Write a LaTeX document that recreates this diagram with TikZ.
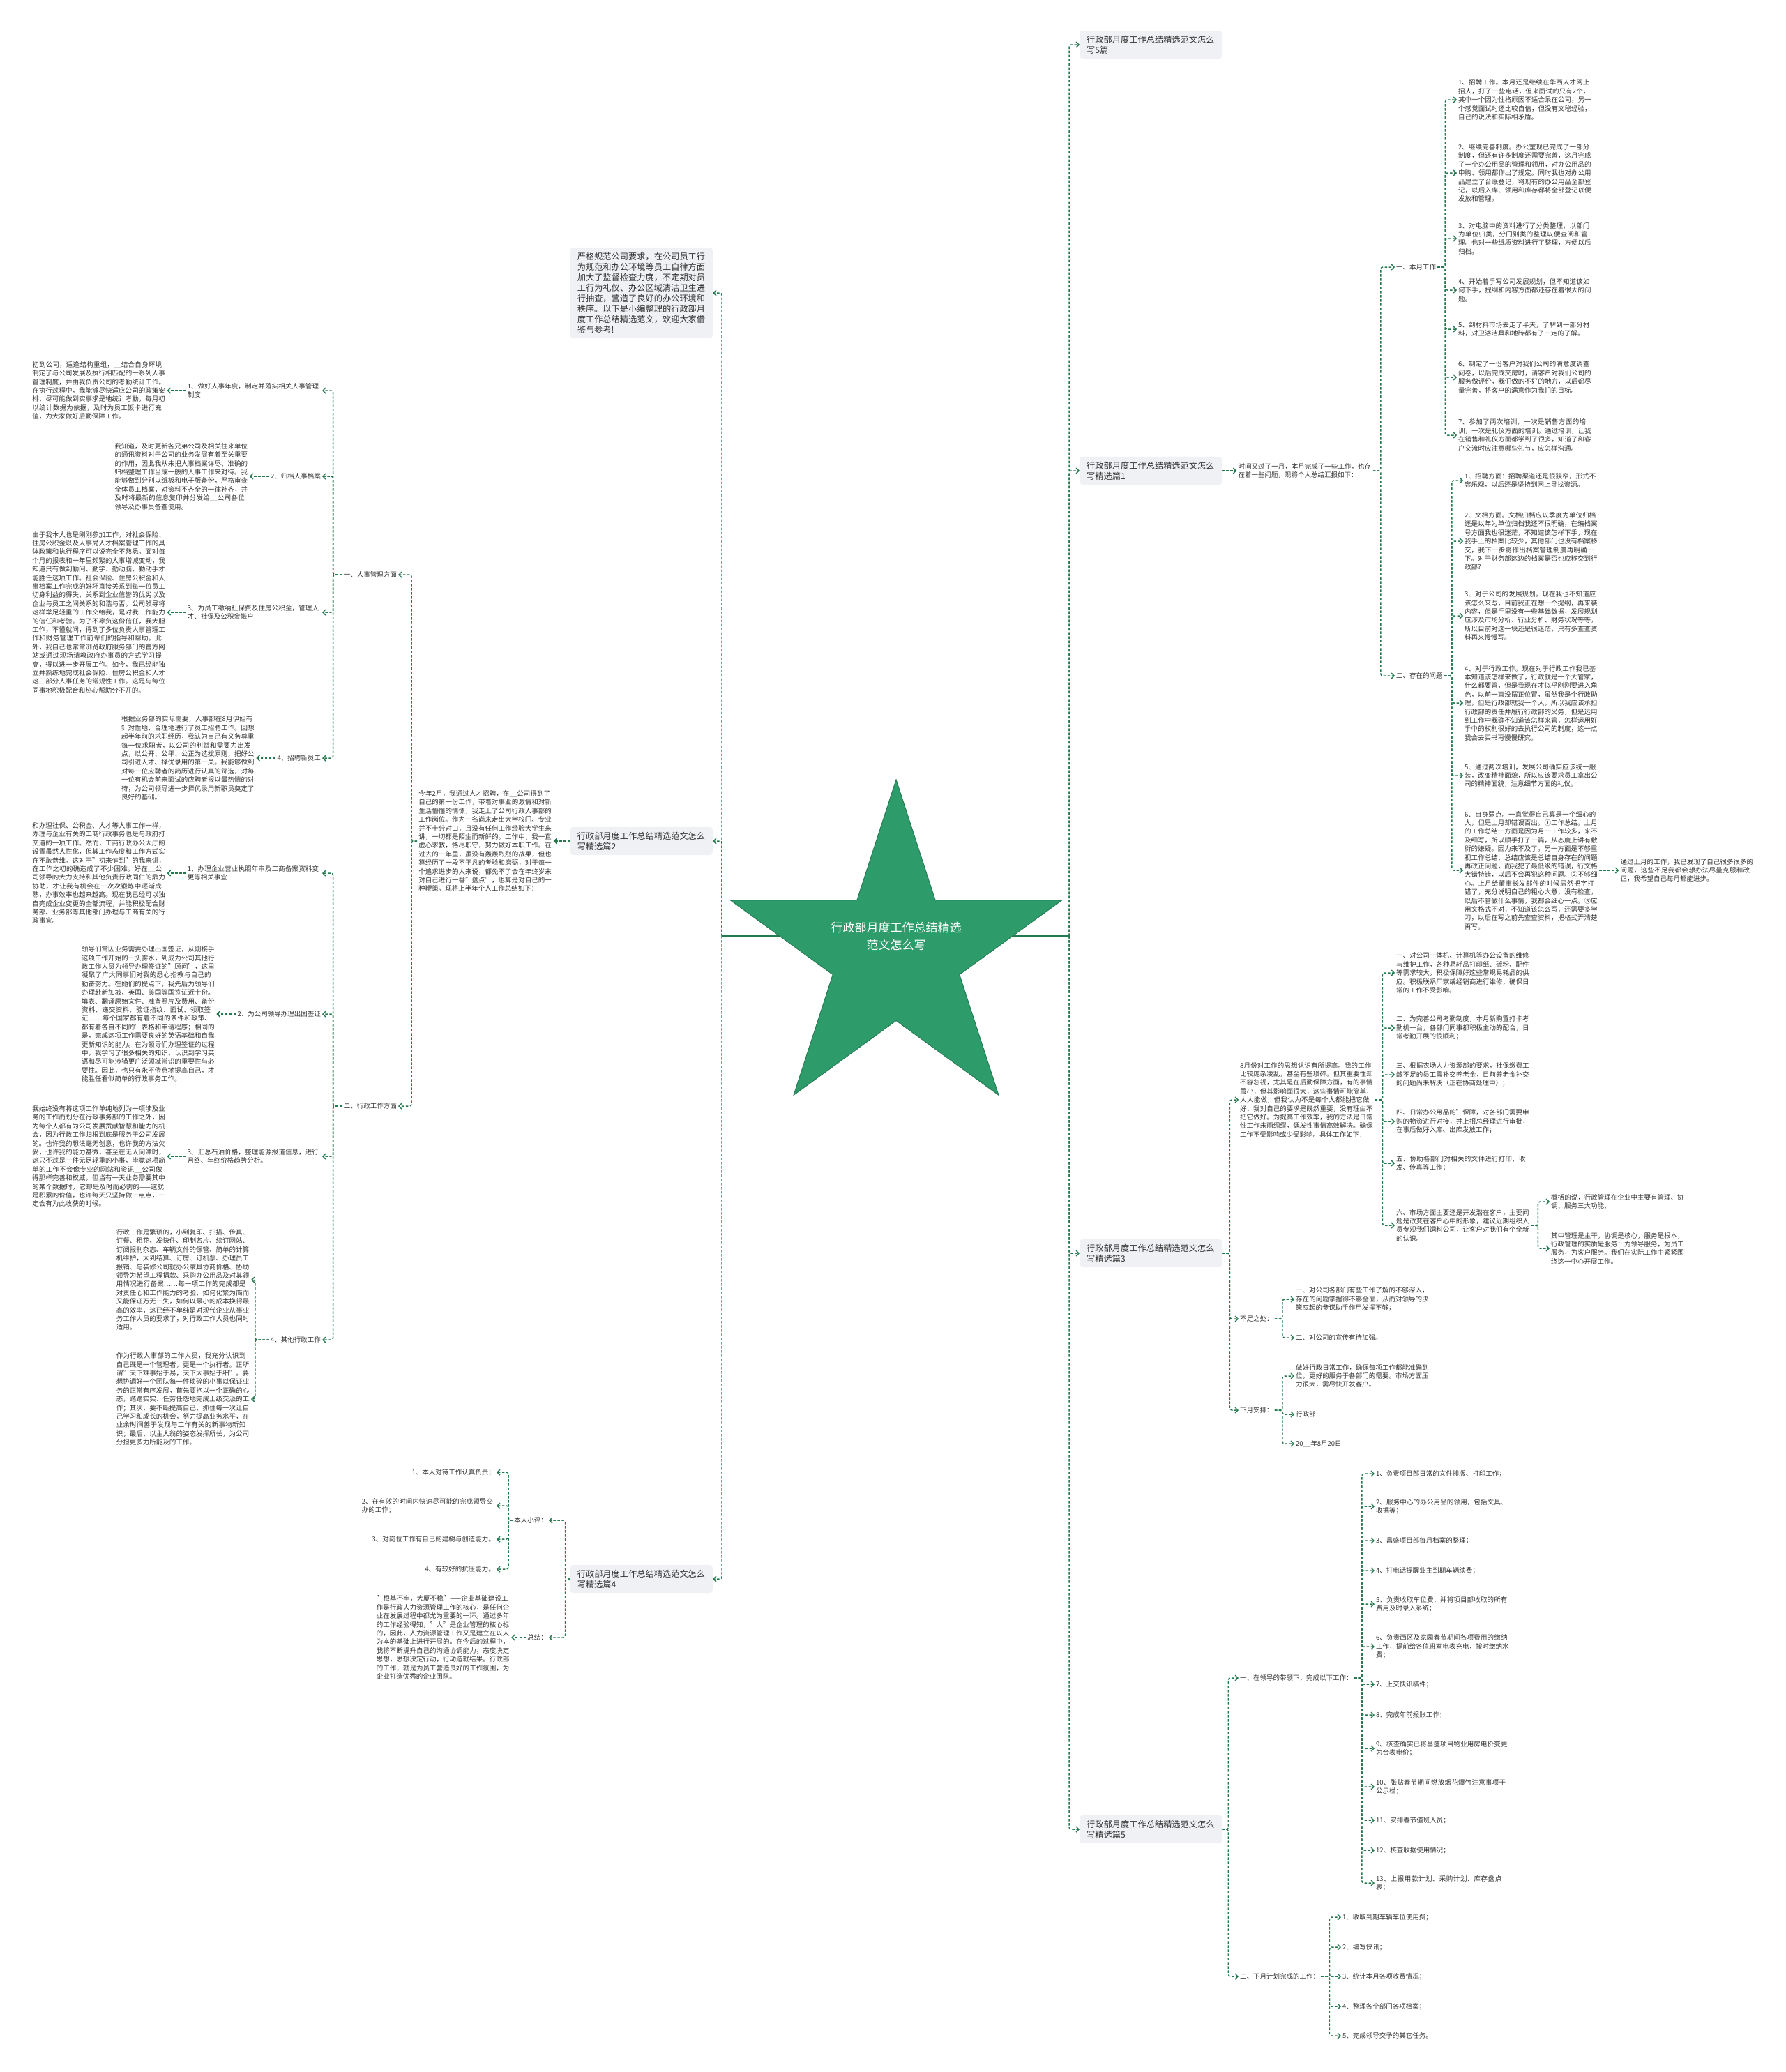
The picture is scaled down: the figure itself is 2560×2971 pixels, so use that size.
\documentclass[tikz,border=0pt]{standalone}
\usepackage{fontspec}
\setmainfont{Noto Sans CJK SC}
\usetikzlibrary{shapes.geometric, positioning, arrows.meta}
\XeTeXlinebreaklocale "zh"
\XeTeXlinebreakskip=0pt plus 1pt
\definecolor{MapGreen}{RGB}{36,122,78}
\definecolor{StarGreen}{RGB}{46,156,106}
\definecolor{BoxGray}{RGB}{239,241,244}
\definecolor{InkGray}{RGB}{51,51,51}

\begin{document}
\begin{tikzpicture}[x=1pt, y=-1pt,
    leaf/.style={inner sep=2pt, align=left, text=InkGray, font=\fontsize{9.5}{12.4}\selectfont},
    leafw/.style={leaf, text width=191pt},
    secbox/.style={rectangle, rounded corners=4pt, fill=BoxGray, text width=184pt,
                   inner xsep=10pt, inner ysep=7pt, align=left, text=InkGray,
                   font=\fontsize{12.2}{15}\selectfont},
    conn/.style={draw=MapGreen, line width=1.5pt, dash pattern=on 3.5pt off 2.5pt,
                 rounded corners=3pt,
                 -{Straight Barb[length=4pt, width=8pt, line width=1.4pt]}},
    spine/.style={draw=MapGreen, line width=1.5pt}
  ]
  \useasboundingbox (0,0) rectangle (2560,2971);

  % centre
  \coordinate (lhub) at (1035,1342);
  \coordinate (rhub) at (1533,1342);
  \draw[spine] (lhub) -- (rhub);
  \node[star, star points=5, star point ratio=2.618, minimum size=500pt, inner sep=0pt,
        fill=StarGreen, draw=StarGreen!80!black, line width=1pt] (core) at (1285,1368) {};
  \node[align=center, text=white, font=\fontsize{17}{25}\selectfont] (title) at (1285,1342)
        {行政部月度工作总结精选\\范文怎么写};

  % section boxes
  \node[secbox, anchor=west] (sec0)  at (1548,64)   {行政部月度工作总结精选范文怎么写5篇};
  \node[secbox, anchor=west] (sec1)  at (1548,675)  {行政部月度工作总结精选范文怎么写精选篇1};
  \node[secbox, anchor=west] (sec3)  at (1548,1797) {行政部月度工作总结精选范文怎么写精选篇3};
  \node[secbox, anchor=west] (sec5)  at (1548,2623) {行政部月度工作总结精选范文怎么写精选篇5};
  \node[secbox, anchor=east] (intro) at (1022,420)  {严格规范公司要求，在公司员工行为规范和办公环境等员工自律方面加大了监督检查力度，不定期对员工行为礼仪、办公区域清洁卫生进行抽查，营造了良好的办公环境和秩序。以下是小编整理的行政部月度工作总结精选范文，欢迎大家借鉴与参考!};
  \node[secbox, anchor=east] (sec2)  at (1022,1206) {行政部月度工作总结精选范文怎么写精选篇2};
  \node[secbox, anchor=east] (sec4)  at (1022,2264) {行政部月度工作总结精选范文怎么写精选篇4};

  \foreach \s in {sec0,sec1,sec3,sec5} \draw[conn] (rhub) |- (\s.west);
  \foreach \s in {intro,sec2,sec4} \draw[conn] (lhub) |- (\s.east);

  % piece 1
  \node[leafw, right=21pt of sec1] (s1txt) {时间又过了一月，本月完成了一些工作，也存在着一些问题，现将个人总结汇报如下：};
  \draw[conn] (sec1.east) -- (s1txt.west);
  \node[leaf, anchor=west] (s1a) at (2000,383) {一、本月工作};
  \node[leaf, anchor=west] (s1b) at (2000,969) {二、存在的问题};
  \foreach \c in {s1a,s1b} \draw[conn] (s1txt.east) -- ++(11,0) |- (\c.west);

  \node[leafw, anchor=west] (s1a1) at (2089,143) {1、招聘工作。本月还是继续在华西人才网上招人，打了一些电话，但来面试的只有2个，其中一个因为性格原因不适合呆在公司，另一个感觉面试时还比较自信，但没有文秘经验，自己的说法和实际相矛盾。};
  \node[leafw, anchor=west] (s1a2) at (2089,248) {2、继续完善制度。办公室现已完成了一部分制度，但还有许多制度还需要完善，这月完成了一个办公用品的管理和领用，对办公用品的申购、领用都作出了规定。同时我也对办公用品建立了台账登记，将现有的办公用品全部登记，以后入库、领用和库存都将全部登记以便发放和管理。};
  \node[leafw, anchor=west] (s1a3) at (2089,342) {3、对电脑中的资料进行了分类整理，以部门为单位归类，分门别类的整理以便查阅和管理。也对一些纸质资料进行了整理，方便以后归档。};
  \node[leafw, anchor=west] (s1a4) at (2089,416) {4、开始着手写公司发展规划，但不知道该如何下手，提纲和内容方面都还存在着很大的问题。};
  \node[leafw, anchor=west] (s1a5) at (2089,472) {5、到材料市场去走了半天，了解到一部分材料，对卫浴洁具和地砖都有了一定的了解。};
  \node[leafw, anchor=west] (s1a6) at (2089,541) {6、制定了一份客户对我们公司的满意度调查问卷，以后完成交房时，请客户对我们公司的服务做评价，我们做的不好的地方，以后都尽量完善，将客户的满意作为我们的目标。};
  \node[leafw, anchor=west] (s1a7) at (2089,624) {7、参加了两次培训，一次是销售方面的培训，一次是礼仪方面的培训。通过培训，让我在销售和礼仪方面都学到了很多，知道了和客户交流时应注意哪些礼节，应怎样沟通。};
  \foreach \c in {s1a1,s1a2,s1a3,s1a4,s1a5,s1a6,s1a7} \draw[conn] (s1a.east) -- ++(11,0) |- (\c.west);

  \node[leafw, anchor=west] (s1b1) at (2098,689)  {1、招聘方面：招聘渠道还是很狭窄，形式不容乐观，以后还是坚持到网上寻找资源。};
  \node[leafw, anchor=west] (s1b2) at (2098,776)  {2、文档方面。文档归档应以季度为单位归档还是以年为单位归档我还不很明确，在编档案号方面我也很迷茫，不知道该怎样下手，现在我手上的档案比较少，其他部门也没有档案移交，我下一步将作出档案管理制度再明确一下。对于财务部这边的档案是否也应移交到行政部?};
  \node[leafw, anchor=west] (s1b3) at (2098,883)  {3、对于公司的发展规划。现在我也不知道应该怎么来写，目前我正在想一个提纲，再来装内容，但是手里没有一些基础数据，发展规划应涉及市场分析、行业分析、财务状况等等，所以目前对这一块还是很迷茫，只有多查查资料再来慢慢写。};
  \node[leafw, anchor=west] (s1b4) at (2098,1008) {4、对于行政工作。现在对于行政工作我已基本知道该怎样来做了，行政就是一个大管家，什么都要管，但是我现在才似乎刚刚要进入角色，以前一直没摆正位置，虽然我是个行政助理，但是行政部就我一个人，所以我应该承担行政部的责任并履行行政部的义务，但是运用到工作中我确不知道该怎样来管，怎样运用好手中的权利很好的去执行公司的制度，这一点我会去买书再慢慢研究。};
  \node[leafw, anchor=west] (s1b5) at (2098,1112) {5、通过两次培训，发展公司确实应该统一服装，改变精神面貌，所以应该要求员工拿出公司的精神面貌，注意细节方面的礼仪。};
  \node[leafw, anchor=west] (s1b6) at (2098,1248) {6、自身弱点。一直觉得自己算是一个细心的人，但是上月却错误百出。①工作总结。上月的工作总结一方面是因为月一工作较多，来不及细写，所以顺手打了一篇，从态度上讲有敷衍的嫌疑。因为来不及了。另一方面是不够重视工作总结，总结应该是总结自身存在的问题再改正问题，而我犯了最低级的错误，行文格大错特错，以后不会再犯这种问题。②不够细心。上月给董事长发邮件的时候居然把字打错了，充分说明自己的粗心大意，没有检查，以后不管做什么事情，我都会细心一点。③应用文格式不对，不知道该怎么写，还需要多学习，以后在写之前先查查资料，把格式弄清楚再写。};
  \foreach \c in {s1b1,s1b2,s1b3,s1b4,s1b5,s1b6} \draw[conn] (s1b.east) -- ++(11,0) |- (\c.west);
  \node[leafw, right=28pt of s1b6] (s1end) {通过上月的工作，我已发现了自己很多很多的问题，这些不足我都会想办法尽量克服和改正，我希望自己每月都能进步。};
  \draw[conn] (s1b6.east) -- (s1end.west);

  % piece 3
  \node[leafw, anchor=west] (s3txt)  at (1776,1577) {8月份对工作的思想认识有所提高。我的工作比较庞杂凌乱，甚至有些琐碎。但其重要性却不容忽视，尤其是在后勤保障方面，有的事情虽小，但其影响面很大，这些事情可能简单，人人能做，但我认为不是每个人都能把它做好，我对自己的要求是既然重要，没有理由不把它做好。为提高工作效率，我的方法是日常性工作未雨绸缪，偶发性事情高效解决。确保工作不受影响或少受影响。具体工作如下：};
  \node[leaf, anchor=west]  (s3lack) at (1776,1891) {不足之处：};
  \node[leaf, anchor=west]  (s3next) at (1776,2022) {下月安排：};
  \foreach \c in {s3txt,s3lack,s3next} \draw[conn] (sec3.east) -- ++(11,0) |- (\c.west);

  \node[leafw, anchor=west] (s3i1) at (2000,1395) {一、对公司一体机、计算机等办公设备的维修与维护工作，各种易耗品打印纸、碳粉、配件等需求较大，积极保障好这些常规易耗品的供应。积极联系厂家或经销商进行维修，确保日常的工作不受影响。};
  \node[leafw, anchor=west] (s3i2) at (2000,1474) {二、为完善公司考勤制度，本月新购置打卡考勤机一台，各部门同事都积极主动的配合，日常考勤开展的很顺利；};
  \node[leafw, anchor=west] (s3i3) at (2000,1541) {三、根据农场人力资源部的要求，社保缴费工龄不足的员工需补交养老金，目前养老金补交的问题尚未解决（正在协商处理中）；};
  \node[leafw, anchor=west] (s3i4) at (2000,1608) {四、日常办公用品的'保障，对各部门需要申购的物资进行对接，并上报总经理进行审批，在事后做好入库、出库发放工作；};
  \node[leafw, anchor=west] (s3i5) at (2000,1668) {五、协助各部门对相关的文件进行打印、收发、传真等工作；};
  \node[leafw, anchor=west] (s3i6) at (2000,1757) {六、市场方面主要还是开发潜在客户，主要问题是改变在客户心中的形象，建议近期组织人员参观我们饲料公司，让客户对我们有个全新的认识。};
  \foreach \c in {s3i1,s3i2,s3i3,s3i4,s3i5,s3i6} \draw[conn] (s3txt.east) -- ++(11,0) |- (\c.west);

  \node[leafw, anchor=west] (s3i6a) at (2222,1723) {概括的说，行政管理在企业中主要有管理、协调、服务三大功能，};
  \node[leafw, anchor=west] (s3i6b) at (2222,1790) {其中管理是主干，协调是核心，服务是根本，行政管理的实质是服务：为领导服务，为员工服务，为客户服务。我们在实际工作中紧紧围绕这一中心开展工作。};
  \foreach \c in {s3i6a,s3i6b} \draw[conn] (s3i6.east) -- ++(10,0) |- (\c.west);

  \node[leafw, anchor=west] (s3lack1) at (1856,1863) {一、对公司各部门有些工作了解的不够深入，存在的问题掌握得不够全面，从而对领导的决策应起的参谋助手作用发挥不够；};
  \node[leaf, anchor=west]  (s3lack2) at (1856,1918) {二、对公司的宣传有待加强。};
  \foreach \c in {s3lack1,s3lack2} \draw[conn] (s3lack.east) -- ++(11,0) |- (\c.west);
  \node[leafw, anchor=west] (s3next1) at (1856,1973) {做好行政日常工作，确保每项工作都能准确到位，更好的服务于各部门的需要。市场方面压力很大，需尽快开发客户。};
  \node[leaf, anchor=west]  (s3next2) at (1856,2028) {行政部};
  \node[leaf, anchor=west]  (s3next3) at (1856,2070) {20\_\_年8月20日};
  \foreach \c in {s3next1,s3next2,s3next3} \draw[conn] (s3next.east) -- ++(11,0) |- (\c.west);

  % piece 5
  \node[leaf, anchor=west] (s5a) at (1776,2406) {一、在领导的带领下，完成以下工作：};
  \node[leaf, anchor=west] (s5b) at (1776,2834) {二、下月计划完成的工作：};
  \foreach \c in {s5a,s5b} \draw[conn] (sec5.east) -- ++(9,0) |- (\c.west);

  \node[leafw, anchor=west] (s5a1)  at (1971,2113) {1、负责项目部日常的文件排版、打印工作；};
  \node[leafw, anchor=west] (s5a2)  at (1971,2160) {2、服务中心的办公用品的领用，包括文具、收据等；};
  \node[leafw, anchor=west] (s5a3)  at (1971,2209) {3、昌盛项目部每月档案的整理；};
  \node[leafw, anchor=west] (s5a4)  at (1971,2252) {4、打电话提醒业主到期车辆续费；};
  \node[leafw, anchor=west] (s5a5)  at (1971,2300) {5、负责收取车位费，并将项目部收取的所有费用及时录入系统；};
  \node[leafw, anchor=west] (s5a6)  at (1971,2361) {6、负责西区及家园春节期间各项费用的缴纳工作，提前给各值班室电表充电，按时缴纳水费；};
  \node[leafw, anchor=west] (s5a7)  at (1971,2415) {7、上交快讯稿件；};
  \node[leafw, anchor=west] (s5a8)  at (1971,2459) {8、完成年前报账工作；};
  \node[leafw, anchor=west] (s5a9)  at (1971,2507) {9、核查确实已将昌盛项目物业用房电价变更为合表电价；};
  \node[leafw, anchor=west] (s5a10) at (1971,2562) {10、张贴春节期间燃放烟花爆竹注意事项于公示栏；};
  \node[leafw, anchor=west] (s5a11) at (1971,2610) {11、安排春节值班人员；};
  \node[leafw, anchor=west] (s5a12) at (1971,2653) {12、核查收据使用情况；};
  \node[leafw, anchor=west] (s5a13) at (1971,2700) {13、上报用款计划、采购计划、库存盘点表；};
  \foreach \c in {s5a1,s5a2,s5a3,s5a4,s5a5,s5a6,s5a7,s5a8,s5a9,s5a10,s5a11,s5a12,s5a13}
    \draw[conn] (s5a.east) -- ++(11,0) |- (\c.west);

  \node[leaf, anchor=west] (s5b1) at (1923,2749) {1、收取到期车辆车位使用费；};
  \node[leaf, anchor=west] (s5b2) at (1923,2792) {2、编写快讯；};
  \node[leaf, anchor=west] (s5b3) at (1923,2834) {3、统计本月各项收费情况；};
  \node[leaf, anchor=west] (s5b4) at (1923,2877) {4、整理各个部门各项档案；};
  \node[leaf, anchor=west] (s5b5) at (1923,2919) {5、完成领导交予的其它任务。};
  \foreach \c in {s5b1,s5b2,s5b3,s5b4,s5b5} \draw[conn] (s5b.east) -- ++(12,0) |- (\c.west);

  % piece 2
  \node[leafw, left=24pt of sec2] (s2txt) {今年2月，我通过人才招聘，在\_\_公司得到了自己的第一份工作，带着对事业的激情和对新生活懵懂的情愫，我走上了公司行政人事部的工作岗位。作为一名尚未走出大学校门、专业并不十分对口，且没有任何工作经验大学生来讲，一切都是陌生而新鲜的。工作中，我一直虚心求教，恪尽职守，努力做好本职工作。在过去的一年里，虽没有轰轰烈烈的战果，但也算经历了一段不平凡的考验和磨砺，对于每一个追求进步的人来说，都免不了会在年终岁末对自己进行一番"盘点"，也算是对自己的一种鞭策。现将上半年个人工作总结如下：};
  \draw[conn] (sec2.west) -- (s2txt.east);
  \node[leaf, anchor=east] (s2hr)  at (571,824)  {一、人事管理方面};
  \node[leaf, anchor=east] (s2adm) at (571,1586) {二、行政工作方面};
  \foreach \c in {s2hr,s2adm} \draw[conn] (s2txt.west) -- ++(-8,0) |- (\c.east);

  \node[leafw, anchor=east] (hr1) at (462,560)  {1、做好人事年度，制定并落实相关人事管理制度};
  \node[leaf,  anchor=east] (hr2) at (462,683)  {2、归档人事档案};
  \node[leafw, anchor=east] (hr3) at (462,878)  {3、为员工缴纳社保费及住房公积金，管理人才、社保及公积金帐户};
  \node[leaf,  anchor=east] (hr4) at (462,1087) {4、招聘新员工};
  \foreach \c in {hr1,hr2,hr3,hr4} \draw[conn] (s2hr.west) -- ++(-13,0) |- (\c.east);

  \node[leafw, left=27pt of hr1] (hr1txt) {初到公司，适逢结构重组，\_\_结合自身环境制定了与公司发展及执行相匹配的一系列人事管理制度，并由我负责公司的考勤统计工作。在执行过程中，我能够尽快适应公司的政策安排，尽可能做到实事求是地统计考勤，每月初以统计数据为依据，及时为员工饭卡进行充值，为大家做好后勤保障工作。};
  \node[leafw, left=28pt of hr2] (hr2txt) {我知道，及时更新各兄弟公司及相关往来单位的通讯资料对于公司的业务发展有着至关重要的作用，因此我从未把人事档案详尽、准确的归档整理工作当成一般的人事工作来对待。我能够做到分别以纸板和电子版备份，严格审查全体员工档案，对资料不齐全的一律补齐，并及时将最新的信息复印并分发给\_\_公司各位领导及办事员备查使用。};
  \node[leafw, left=27pt of hr3] (hr3txt) {由于我本人也是刚刚参加工作，对社会保险、住房公积金以及人事局人才档案管理工作的具体政策和执行程序可以说完全不熟悉。面对每个月的报表和一年里频繁的人事增减变动，我知道只有做到勤问、勤学、勤动脑、勤动手才能胜任这项工作。社会保险、住房公积金和人事档案工作完成的好坏直接关系到每一位员工切身利益的得失，关系到企业信誉的优劣以及企业与员工之间关系的和谐与否。公司领导将这样举足轻重的工作交给我，是对我工作能力的信任和考验。为了不辜负这份信任，我大胆工作，不懂就问，得到了多位负责人事管理工作和财务管理工作前辈们的指导和帮助。此外，我自己也常常浏览政府服务部门的官方网站或通过现场请教政府办事员的方式学习提高，得以进一步开展工作。如今，我已经能独立并熟练地完成社会保险、住房公积金和人才这三部分人事任务的常规性工作。这是与每位同事地积极配合和热心帮助分不开的。};
  \node[leafw, left=28pt of hr4] (hr4txt) {根据业务部的实际需要，人事部在8月伊始有针对性地、合理地进行了员工招聘工作。回想起半年前的求职经历，我认为自己有义务尊重每一位求职者，以公司的利益和需要为出发点，以公开、公平、公正为选拔原则，把好公司引进人才、择优录用的第一关。我能够做到对每一位应聘者的简历进行认真的筛选，对每一位有机会前来面试的应聘者报以最热情的对待，为公司领导进一步择优录用新职员奠定了良好的基础。};
  \foreach \c in {hr1,hr2,hr3,hr4} \draw[conn] (\c.west) -- (\c txt.east);

  \node[leafw, anchor=east] (adm1) at (462,1252) {1、办理企业营业执照年审及工商备案资料变更等相关事宜};
  \node[leaf,  anchor=east] (adm2) at (462,1454) {2、为公司领导办理出国签证};
  \node[leafw, anchor=east] (adm3) at (462,1658) {3、汇总石油价格，整理能源报道信息，进行月终、年终价格趋势分析。};
  \node[leaf,  anchor=east] (adm4) at (462,1921) {4、其他行政工作};
  \foreach \c in {adm1,adm2,adm3,adm4} \draw[conn] (s2adm.west) -- ++(-13,0) |- (\c.east);

  \node[leafw, left=27pt of adm1] (adm1txt) {和办理社保、公积金、人才等人事工作一样，办理与企业有关的工商行政事务也是与政府打交道的一项工作。然而，工商行政办公大厅的设置虽然人性化，但其工作态度和工作方式实在不敢恭维。这对于"初来乍到"的我来讲，在工作之初的确造成了不少困难。好在\_\_公司领导的大力支持和其他负责行政同仁的鼎力协助，才让我有机会在一次次锻炼中逐渐成熟，办事效率也越来越高。现在我已经可以独自完成企业变更的全部流程，并能积极配合财务部、业务部等其他部门办理与工商有关的行政事宜。};
  \node[leafw, left=28pt of adm2] (adm2txt) {领导们常因业务需要办理出国签证，从刚接手这项工作开始的一头雾水，到成为公司其他行政工作人员为领导办理签证的"顾问"，这里凝聚了广大同事们对我的悉心指教与自己的勤奋努力。在她们的提点下，我先后为领导们办理赴新加坡、英国、美国等国签证近十份。填表、翻译原始文件、准备照片及费用、备份资料、递交资料、验证指纹、面试、领取签证……每个国家都有着不同的条件和政策、都有着各自不同的'表格和申请程序；相同的是，完成这项工作需要良好的英语基础和自我更新知识的能力。在为领导们办理签证的过程中，我学习了很多相关的知识，认识到学习英语和尽可能涉猎更广泛领域常识的重要性与必要性。因此，也只有永不倦怠地提高自己，才能胜任看似简单的行政事务工作。};
  \node[leafw, left=27pt of adm3] (adm3txt) {我始终没有将这项工作单纯地列为一项涉及业务的工作而划分在行政事务部的工作之外，因为每个人都有为公司发展贡献智慧和能力的机会，因为行政工作归根到底是服务于公司发展的。也许我的想法毫无创意，也许我的方法欠妥，也许我的能力甚微，甚至在无人问津时，这只不过是一件无足轻重的小事，毕竟这项简单的工作不会像专业的网站和资讯\_\_公司做得那样完善和权威，但当有一天业务需要其中的某个数据时，它却是及时而必需的——这就是积累的价值，也许每天只坚持做一点点，一定会有为此收获的时候。};
  \foreach \c in {adm1,adm2,adm3} \draw[conn] (\c.west) -- (\c txt.east);

  \node[leafw, anchor=east] (adm4a) at (360,1835) {行政工作是繁琐的，小到复印、扫描、传真、订餐、租花、发快件、印制名片、续订网站、订阅报刊杂志、车辆文件的保管、简单的计算机维护，大到结算、订房、订机票、办理员工报销、与装修公司就办公家具协商价格、协助领导为希望工程捐款、采购办公用品及对其领用情况进行备案……每一项工作的完成都是对责任心和工作能力的考验，如何化繁为简而又能保证万无一失，如何以最小的成本换得最高的效率，这已经不单纯是对现代企业从事业务工作人员的要求了，对行政工作人员也同时适用。};
  \node[leafw, anchor=east] (adm4b) at (360,2006) {作为行政人事部的工作人员，我充分认识到自己既是一个管理者，更是一个执行者。正所谓"天下难事始于易，天下大事始于细"。要想协调好一个团队每一件琐碎的小事以保证业务的正常有序发展，首先要抱以一个正确的心态，踏踏实实、任劳任怨地完成上级交派的工作；其次，要不断提高自己、抓住每一次让自己学习和成长的机会，努力提高业务水平，在业余时间善于发现与工作有关的新事物新知识；最后，以主人翁的姿态发挥所长，为公司分担更多力所能及的工作。};
  \foreach \c in {adm4a,adm4b} \draw[conn] (adm4.west) -- ++(-20,0) |- (\c.east);

  % piece 4
  \node[leaf, anchor=east] (s4self) at (787,2180) {本人小评：};
  \node[leaf, anchor=east] (s4sum)  at (787,2348) {总结：};
  \foreach \c in {s4self,s4sum} \draw[conn] (sec4.west) -- ++(-7,0) |- (\c.east);

  \node[leaf,  anchor=east] (s4self1) at (712,2111) {1、本人对待工作认真负责；};
  \node[leafw, anchor=east] (s4self2) at (712,2159) {2、在有效的时间内快速尽可能的完成领导交办的工作；};
  \node[leaf,  anchor=east] (s4self3) at (712,2207) {3、对岗位工作有自己的建树与创造能力。};
  \node[leaf,  anchor=east] (s4self4) at (712,2250) {4、有较好的抗压能力。};
  \foreach \c in {s4self1,s4self2,s4self3,s4self4} \draw[conn] (s4self.west) -- ++(-6,0) |- (\c.east);

  \node[leafw, left=21pt of s4sum] (s4sumtxt) {"根基不牢，大厦不稳"——企业基础建设工作是行政人力资源管理工作的核心，是任何企业在发展过程中都尤为重要的一环。通过多年的工作经验得知，"人"是企业管理的核心标的，因此，人力资源管理工作又是建立在以人为本的基础上进行开展的。在今后的过程中，我将不断提升自己的沟通协调能力，态度决定思想，思想决定行动，行动造就结果。行政部的工作，就是为员工营造良好的工作氛围，为企业打造优秀的企业团队。};
  \draw[conn] (s4sum.west) -- (s4sumtxt.east);
\end{tikzpicture}
\end{document}
